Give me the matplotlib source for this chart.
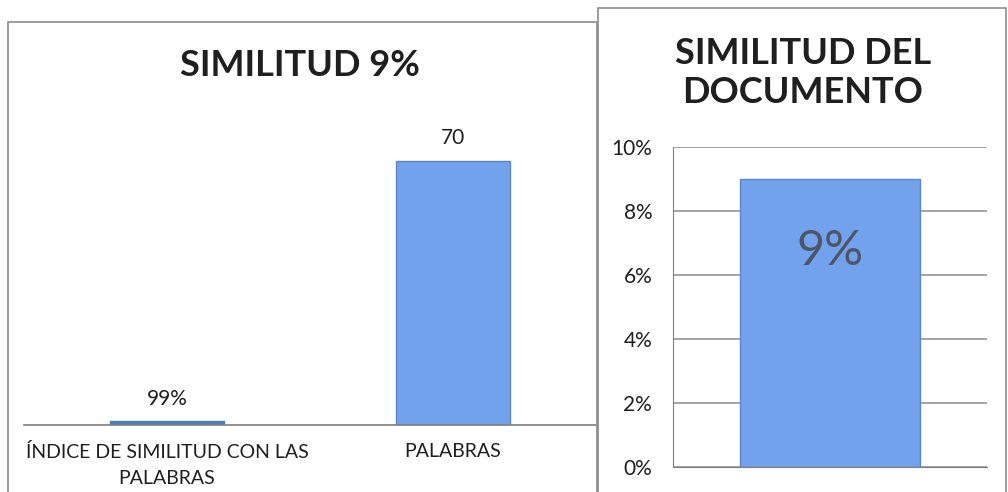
import matplotlib
matplotlib.use("Agg")
import matplotlib.pyplot as plt
from matplotlib.patches import Rectangle

plt.rcParams["font.family"] = ["Lato", "DejaVu Sans"]

# --- datos ---
left_title = "SIMILITUD 9%"
left_cats = ["ÍNDICE DE SIMILITUD CON LAS\nPALABRAS", "PALABRAS"]
left_vals = [0.99, 70]
left_labels = ["99%", "70"]

right_title = "SIMILITUD DEL\nDOCUMENTO"
right_cats = [""]
right_vals = [0.09]
right_labels = ["9%"]
right_ticks = [0, 0.02, 0.04, 0.06, 0.08, 0.10]

BAR = "#72a2ec"
EDGE = "#5b87c9"
TXT = "#1f1f1f"

fig = plt.figure(figsize=(10.08, 4.92), dpi=100)

# marcos de los dos gráficos
fig.patches.append(Rectangle((8 / 1008, -0.01), 589 / 1008, 1 - 22 / 492 + 0.01,
                             transform=fig.transFigure, fill=False, ec="#8c8c8c", lw=1.2))
fig.patches.append(Rectangle((598 / 1008, -0.01), 408 / 1008, 1 - 8 / 492 + 0.01,
                             transform=fig.transFigure, fill=False, ec="#8c8c8c", lw=1.2))

# --- panel izquierdo ---
ax = fig.add_axes([24 / 1008, 1 - 425 / 492, 572 / 1008, (425 - 123) / 492])
x = range(len(left_cats))
bars = ax.bar(x, left_vals, width=0.4, color=BAR, edgecolor=EDGE, lw=1)
bars[0].set_color("#4a7fb5")
ax.set_xlim(-0.5, 1.5)
ax.set_ylim(0, 80)
for s in ["left", "right", "top"]:
    ax.spines[s].set_visible(False)
ax.spines["bottom"].set_color("#7f7f7f")
ax.spines["bottom"].set_linewidth(1.2)
ax.set_yticks([])
ax.set_xticks(list(x))
ax.set_xticklabels(left_cats, fontsize=14, color=TXT, linespacing=1.65)
ax.tick_params(axis="x", length=0, pad=13)
for b, lab in zip(bars, left_labels):
    ax.annotate(lab, (b.get_x() + b.get_width() / 2, b.get_height()),
                xytext=(0, 9), textcoords="offset points",
                ha="center", va="bottom", fontsize=15, color=TXT)
fig.text(300 / 1008, 1 - 65 / 492, left_title, ha="center", va="center",
         fontsize=26, fontweight="bold", color=TXT)

# --- panel derecho ---
ax2 = fig.add_axes([673 / 1008, 1 - 467 / 492, 314 / 1008, (467 - 147) / 492])
ax2.set_axisbelow(True)
rb = ax2.bar(range(len(right_cats)), right_vals, width=0.573, color=BAR, edgecolor=EDGE, lw=1)
ax2.set_xlim(-0.5, 0.5)
ax2.set_ylim(0, 0.10)
ax2.set_yticks(right_ticks)
ax2.set_yticklabels([f"{t * 100:.0f}%" for t in right_ticks], fontsize=15, color=TXT)
ax2.tick_params(axis="y", length=0, pad=15)
ax2.set_xticks([])
ax2.yaxis.grid(True, color="#8c8c8c", lw=1.1)
for s in ["right", "top"]:
    ax2.spines[s].set_visible(False)
ax2.spines["left"].set_color("#7f7f7f")
ax2.spines["bottom"].set_color("#7f7f7f")
for b, lab in zip(rb, right_labels):
    ax2.text(b.get_x() + b.get_width() / 2, b.get_height() - 0.0225, lab,
             ha="center", va="center", fontsize=35, color="#4d5566")
fig.text(803 / 1008, 1 - 73 / 492, right_title, ha="center", va="center",
         fontsize=26, fontweight="bold", color=TXT, linespacing=1.25)

fig.savefig("out.png", dpi=100)
